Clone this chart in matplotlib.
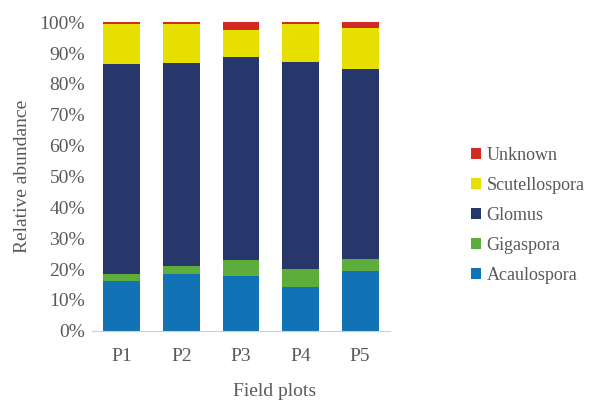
import numpy as np
import matplotlib
matplotlib.use("Agg")
import matplotlib.pyplot as plt
from matplotlib.ticker import PercentFormatter

# data (relative abundance, %)
plots = ["P1", "P2", "P3", "P4", "P5"]
acaulospora = [16.0, 18.3, 17.8, 14.2, 19.5]
gigaspora = [2.3, 2.7, 5.3, 5.8, 3.7]
glomus = [68.3, 65.8, 65.7, 67.0, 61.6]
scutellospora = [12.7, 12.5, 8.7, 12.4, 13.2]
unknown = [0.7, 0.7, 2.5, 0.6, 2.0]

series = [
    ("Acaulospora", acaulospora, "#1272b6"),
    ("Gigaspora", gigaspora, "#5cad3c"),
    ("Glomus", glomus, "#27376b"),
    ("Scutellospora", scutellospora, "#e6df00"),
    ("Unknown", unknown, "#d12a25"),
]

plt.rcParams["font.family"] = ["Liberation Serif", "DejaVu Serif"]
grey = "#595959"

fig = plt.figure(figsize=(5.98, 4.03), dpi=100)
ax = fig.add_axes([0.154, 0.179, 0.498, 0.766])

x = np.arange(len(plots))
bottom = np.zeros(len(plots))
for name, vals, col in series:
    vals = np.array(vals) / 100
    ax.bar(x, vals, 0.62, bottom=bottom, color=col, label=name)
    bottom += vals

ax.set_xlim(-0.5, len(plots) - 0.5)
ax.set_ylim(0, 1)
ax.set_yticks(np.arange(0, 1.01, 0.1))
ax.yaxis.set_major_formatter(PercentFormatter(1.0, decimals=0))
ax.set_xticks(x)
ax.set_xticklabels(plots)
ax.tick_params(length=0, labelsize=14, colors=grey)
ax.tick_params(axis="x", pad=12)
ax.tick_params(axis="y", pad=5)
for s in ["top", "right", "left"]:
    ax.spines[s].set_visible(False)
ax.spines["bottom"].set_color("#d0d0d0")

ax.set_xlabel("Field plots", fontsize=14, color=grey)
ax.xaxis.set_label_coords(0.614, -0.168)
ax.set_ylabel("Relative abundance", fontsize=14, color=grey, labelpad=6)

h, l = ax.get_legend_handles_labels()
fig.legend(h[::-1], l[::-1], loc="upper left", bbox_to_anchor=(0.761, 0.675),
           frameon=False, fontsize=13, handlelength=0.55, handleheight=0.55,
           handletextpad=0.3, labelspacing=0.72, labelcolor=grey)

fig.savefig("out.png", dpi=100)
